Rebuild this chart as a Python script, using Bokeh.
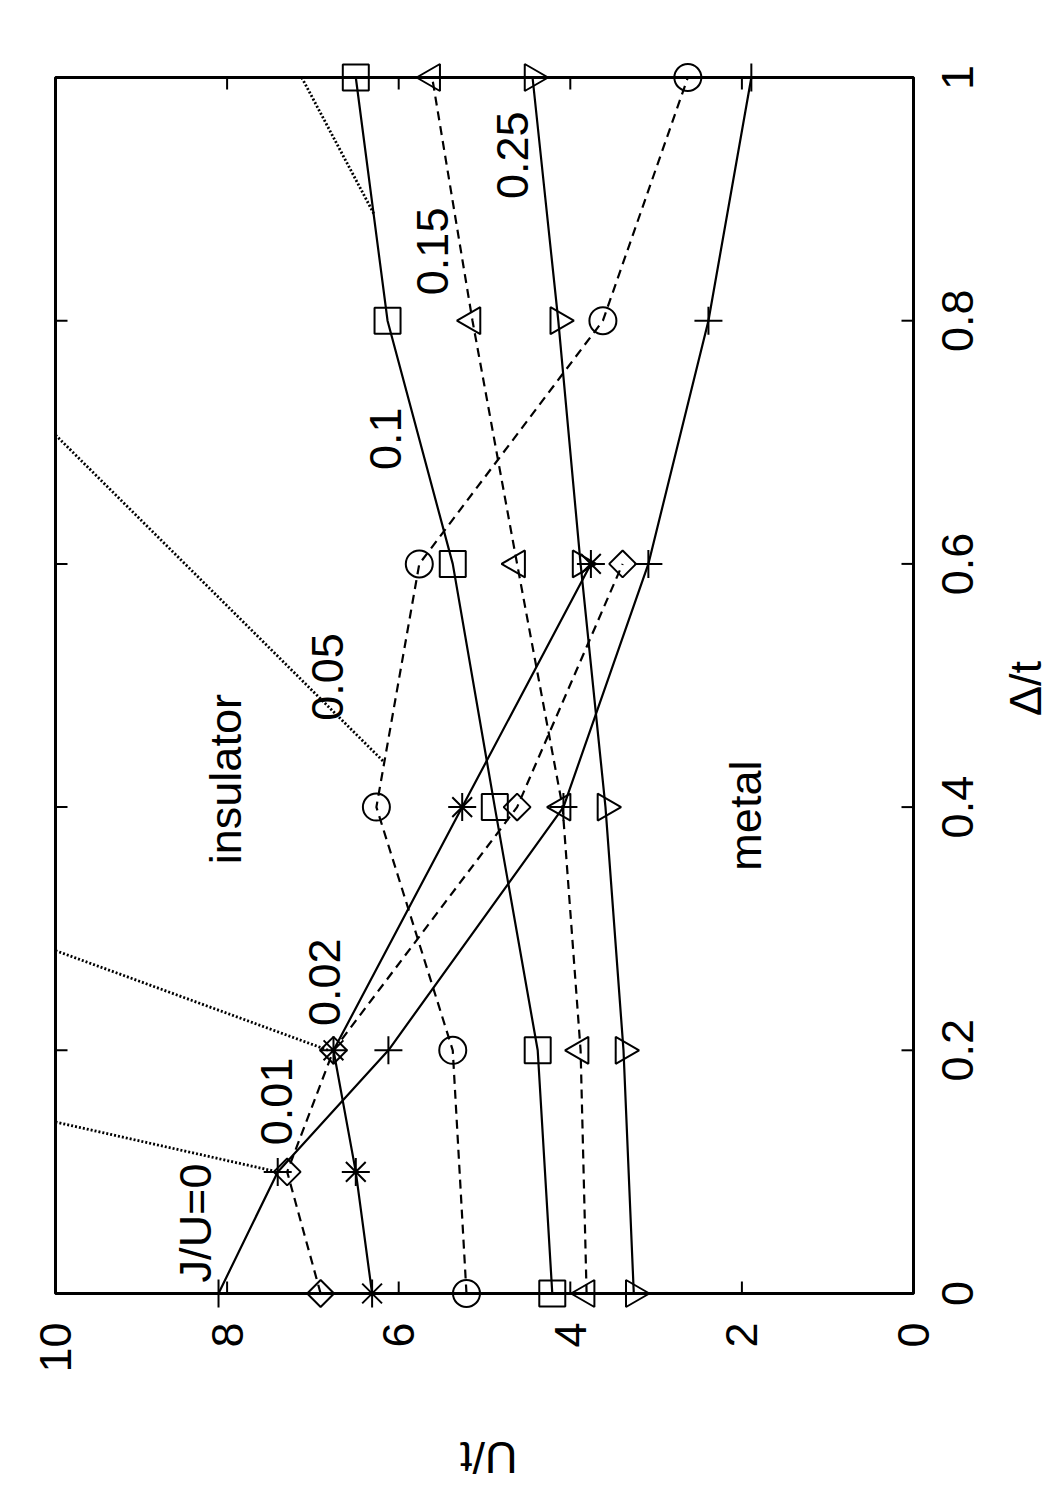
import math
from bokeh.plotting import figure
from bokeh.models import Range1d, Label, BoxAnnotation
from bokeh.core.properties import value
from bokeh.embed import file_html
from bokeh.resources import INLINE

# ---- data (x = U/t, y = Delta/t) ----
d_j0 = [0.0, 0.1, 0.2, 0.4, 0.6, 0.8, 1.0]
u_j0 = [8.10, 7.41, 6.12, 4.08, 3.09, 2.39, 1.89]

d_j001 = [0.0, 0.1, 0.2, 0.4, 0.6]
u_j001 = [6.91, 7.30, 6.76, 4.62, 3.39]

d_j002 = [0.0, 0.1, 0.2, 0.4, 0.6]
u_j002 = [6.31, 6.50, 6.76, 5.26, 3.76]

d_j005 = [0.0, 0.2, 0.4, 0.6, 0.8, 1.0]
u_j005 = [5.21, 5.37, 6.26, 5.76, 3.62, 2.63]

d_j01 = [0.0, 0.2, 0.4, 0.6, 0.8, 1.0]
u_j01 = [4.21, 4.38, 4.88, 5.37, 6.13, 6.50]

d_j015 = [0.0, 0.2, 0.4, 0.6, 0.8, 1.0]
u_j015 = [3.81, 3.88, 4.09, 4.62, 5.14, 5.61]

d_j025 = [0.0, 0.2, 0.4, 0.6, 0.8, 1.0]
u_j025 = [3.26, 3.38, 3.59, 3.88, 4.14, 4.44]

# dotted boundary segments
bnd1_u = [10.0, 7.41]
bnd1_d = [0.141, 0.100]
bnd2_u = [10.0, 6.82]
bnd2_d = [0.282, 0.200]
bnd3_u = [10.0, 6.17]
bnd3_d = [0.706, 0.437]
bnd4_u = [7.13, 6.29]
bnd4_d = [1.000, 0.888]

u_ticks = [0, 2, 4, 6, 8, 10]
u_tick_labels = ["0", "2", "4", "6", "8", "10"]
d_ticks = [0, 0.2, 0.4, 0.6, 0.8, 1.0]
d_tick_labels = ["0", "0.2", "0.4", "0.6", "0.8", "1"]

FONT = "Liberation Sans"
FS = "45px"

# ---- geometry: plot box in canvas pixels ----
W, H = 1050, 1490
BOX_L, BOX_R, BOX_T, BOX_B = 55, 913, 77, 1293
PXU = (BOX_R - BOX_L) / 10.0      # px per unit of U/t
PXD = (BOX_B - BOX_T) / 1.0       # px per unit of Delta/t

x_range = Range1d(10 + BOX_L / PXU, 10 - (W - BOX_L) / PXU)
y_range = Range1d(0 - (H - BOX_B) / PXD, 1 + BOX_T / PXD)

p = figure(frame_width=W, frame_height=H, x_range=x_range, y_range=y_range,
           x_axis_location=None, y_axis_location=None,
           toolbar_location=None, output_backend="svg",
           min_border=0, min_border_left=0, min_border_right=0,
           min_border_top=0, min_border_bottom=0)
p.grid.visible = False
p.outline_line_color = None
p.background_fill_color = "white"
p.border_fill_color = "white"

# frame box
p.add_layout(BoxAnnotation(left=0, right=10, bottom=0, top=1,
                           fill_alpha=0, line_color="black", line_alpha=1.0,
                           line_width=3))

# inward ticks (12 px)
tick_du = 12 / PXU
tick_dd = 12 / PXD
n_u, n_d = len(u_ticks), len(d_ticks)
p.segment(x0=u_ticks, y0=[0] * n_u, x1=u_ticks, y1=[tick_dd] * n_u,
          line_color="black", line_width=2)
p.segment(x0=u_ticks, y0=[1] * n_u, x1=u_ticks, y1=[1 - tick_dd] * n_u,
          line_color="black", line_width=2)
p.segment(x0=[0] * n_d, y0=d_ticks, x1=[tick_du] * n_d, y1=d_ticks,
          line_color="black", line_width=2)
p.segment(x0=[10] * n_d, y0=d_ticks, x1=[10 - tick_du] * n_d, y1=d_ticks,
          line_color="black", line_width=2)

# tick labels (rotated like the page)
p.text(x=u_ticks, y=[-(1322 - BOX_B) / PXD] * n_u, text=u_tick_labels,
       angle=math.pi / 2, text_align="right", text_baseline="middle",
       text_font=value(FONT), text_font_size=value(FS), text_color="black")
p.text(x=[-(957 - BOX_R) / PXU] * n_d, y=d_ticks, text=d_tick_labels,
       angle=math.pi / 2, text_align="center", text_baseline="middle",
       text_font=value(FONT), text_font_size=value(FS), text_color="black")

# dotted boundaries
for bu, bd in ((bnd1_u, bnd1_d), (bnd2_u, bnd2_d), (bnd3_u, bnd3_d), (bnd4_u, bnd4_d)):
    p.line(bu, bd, line_color="black", line_width=2.8, line_dash="2 2")

series = [
    (u_j0, d_j0, "solid", "cross", 28, 0),
    (u_j001, d_j001, "9 6", "square", 19, math.pi / 4),
    (u_j002, d_j002, "solid", "asterisk", 28, 0),
    (u_j005, d_j005, "9 6", "circle", 27, 0),
    (u_j01, d_j01, "solid", "square", 26, 0),
    (u_j015, d_j015, "9 6", "triangle", 27, math.pi / 2),
    (u_j025, d_j025, "solid", "triangle", 27, -math.pi / 2),
]
for u, d, dash, mk, sz, ang in series:
    p.line(u, d, line_color="black", line_width=2.2, line_dash=dash)
    p.scatter(u, d, marker=mk, size=sz, angle=ang, line_color="black",
              fill_color=None, line_width=2.0)

# text labels
texts = [
    ("J/U=0", 8.37, 0.058, math.pi / 2),
    ("0.01", 7.42, 0.158, math.pi / 2),
    ("0.02", 6.86, 0.256, math.pi / 2),
    ("0.05", 6.83, 0.507, math.pi / 2),
    ("0.1", 6.15, 0.703, math.pi / 2),
    ("0.15", 5.61, 0.857, math.pi / 2),
    ("0.25", 4.67, 0.936, math.pi / 2),
    ("insulator", 8.02, 0.423, math.pi / 2),
    ("metal", 1.96, 0.393, math.pi / 2),
    ("U/t", 4.95, -0.135, math.pi),
    ("Δ/t", -1.30, 0.4975, math.pi / 2),
]
for t, x, y, a in texts:
    p.add_layout(Label(x=x, y=y, text=t, angle=a, text_align="center",
                       text_baseline="middle", text_font=FONT,
                       text_font_size=FS, text_color="black"))

open("out.html", "w").write(file_html(p, INLINE))
